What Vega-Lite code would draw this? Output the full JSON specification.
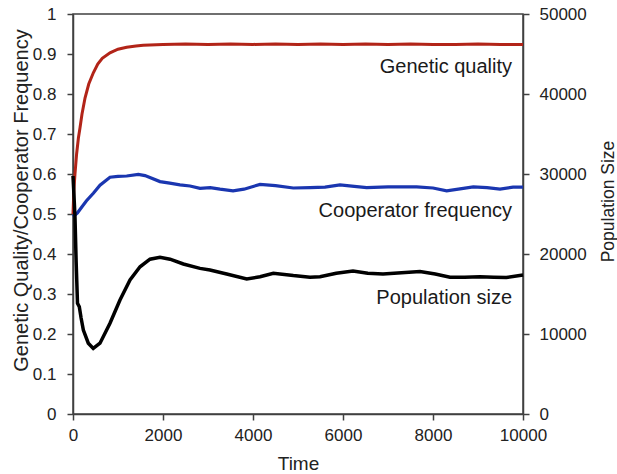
{
  "$schema": "https://vega.github.io/schema/vega-lite/v6.json",
  "width": 450,
  "height": 400,
  "autosize": {"type": "none"},
  "padding": {"left": 73, "top": 14, "right": 94, "bottom": 60},
  "background": "white",
  "config": {
    "font": "Liberation Sans",
    "view": {"stroke": "#404040", "strokeWidth": 1.5},
    "axis": {
      "grid": false,
      "domainColor": "#404040",
      "domainWidth": 1.5,
      "tickColor": "#404040",
      "tickWidth": 1.5,
      "tickSize": 6,
      "labelFontSize": 17,
      "labelColor": "#222222",
      "titleColor": "#222222",
      "titleFontWeight": "normal",
      "labelOverlap": false,
      "labelFlush": false
    }
  },
  "datasets": {
    "gq": [
      {"t": 0, "v": 0.5}, {"t": 20, "v": 0.56}, {"t": 44, "v": 0.6}, {"t": 80, "v": 0.65},
      {"t": 120, "v": 0.69}, {"t": 155, "v": 0.715}, {"t": 200, "v": 0.75}, {"t": 267, "v": 0.79},
      {"t": 350, "v": 0.825}, {"t": 452, "v": 0.853}, {"t": 550, "v": 0.875}, {"t": 650, "v": 0.889},
      {"t": 822, "v": 0.903}, {"t": 1000, "v": 0.912}, {"t": 1193, "v": 0.917}, {"t": 1400, "v": 0.92},
      {"t": 1560, "v": 0.922}, {"t": 2000, "v": 0.924}, {"t": 2500, "v": 0.925}, {"t": 3000, "v": 0.924},
      {"t": 3500, "v": 0.925}, {"t": 4000, "v": 0.924}, {"t": 4500, "v": 0.925}, {"t": 5000, "v": 0.924},
      {"t": 5500, "v": 0.925}, {"t": 6000, "v": 0.924}, {"t": 6500, "v": 0.925}, {"t": 7000, "v": 0.924},
      {"t": 7500, "v": 0.925}, {"t": 8000, "v": 0.924}, {"t": 8500, "v": 0.924}, {"t": 9000, "v": 0.925},
      {"t": 9500, "v": 0.924}, {"t": 10000, "v": 0.924}
    ],
    "cf": [
      {"t": 0, "v": 0.493}, {"t": 100, "v": 0.503}, {"t": 200, "v": 0.518}, {"t": 300, "v": 0.533},
      {"t": 452, "v": 0.552}, {"t": 600, "v": 0.572}, {"t": 822, "v": 0.592}, {"t": 1000, "v": 0.594},
      {"t": 1193, "v": 0.595}, {"t": 1452, "v": 0.599}, {"t": 1600, "v": 0.596}, {"t": 1933, "v": 0.581},
      {"t": 2150, "v": 0.577}, {"t": 2378, "v": 0.573}, {"t": 2600, "v": 0.57}, {"t": 2822, "v": 0.564},
      {"t": 3050, "v": 0.566}, {"t": 3267, "v": 0.562}, {"t": 3556, "v": 0.558}, {"t": 3800, "v": 0.562},
      {"t": 4156, "v": 0.574}, {"t": 4500, "v": 0.571}, {"t": 4896, "v": 0.565}, {"t": 5267, "v": 0.566},
      {"t": 5600, "v": 0.567}, {"t": 5933, "v": 0.573}, {"t": 6250, "v": 0.569}, {"t": 6526, "v": 0.566},
      {"t": 7000, "v": 0.568}, {"t": 7637, "v": 0.568}, {"t": 8000, "v": 0.565}, {"t": 8304, "v": 0.558},
      {"t": 8600, "v": 0.563}, {"t": 8896, "v": 0.568}, {"t": 9200, "v": 0.566}, {"t": 9489, "v": 0.562},
      {"t": 9778, "v": 0.567}, {"t": 10000, "v": 0.567}
    ],
    "pop": [
      {"t": 0, "p": 29750}, {"t": 20, "p": 27500}, {"t": 44, "p": 24650}, {"t": 70, "p": 19000},
      {"t": 100, "p": 13850}, {"t": 140, "p": 13400}, {"t": 180, "p": 12000}, {"t": 230, "p": 10500},
      {"t": 340, "p": 8850}, {"t": 450, "p": 8200}, {"t": 600, "p": 8850}, {"t": 822, "p": 11350},
      {"t": 1044, "p": 14250}, {"t": 1267, "p": 16750}, {"t": 1490, "p": 18400}, {"t": 1711, "p": 19350},
      {"t": 1933, "p": 19600}, {"t": 2156, "p": 19350}, {"t": 2452, "p": 18750}, {"t": 2822, "p": 18200},
      {"t": 3044, "p": 18000}, {"t": 3415, "p": 17500}, {"t": 3860, "p": 16875}, {"t": 4156, "p": 17150},
      {"t": 4452, "p": 17600}, {"t": 4896, "p": 17300}, {"t": 5267, "p": 17100}, {"t": 5489, "p": 17150},
      {"t": 5850, "p": 17600}, {"t": 6222, "p": 17875}, {"t": 6550, "p": 17600}, {"t": 6889, "p": 17500},
      {"t": 7300, "p": 17650}, {"t": 7711, "p": 17800}, {"t": 8050, "p": 17500}, {"t": 8378, "p": 17100},
      {"t": 8700, "p": 17100}, {"t": 9044, "p": 17150}, {"t": 9350, "p": 17100}, {"t": 9630, "p": 17050},
      {"t": 10000, "p": 17375}
    ],
    "labels": [
      {"t": 9756, "v": 0.852, "label": "Genetic quality"},
      {"t": 9756, "v": 0.492, "label": "Cooperator frequency"},
      {"t": 9756, "v": 0.275, "label": "Population size"}
    ]
  },
  "layer": [
    {
      "layer": [
        {
          "data": {"name": "gq"},
          "mark": {"type": "line", "color": "#b22418", "strokeWidth": 3},
          "encoding": {
            "x": {
              "field": "t", "type": "quantitative",
              "scale": {"domain": [0, 10000], "nice": false},
              "axis": {
                "title": "Time", "values": [0, 2000, 4000, 6000, 8000, 10000], "format": "d",
                "labelPadding": 7, "titleFontSize": 19, "titleX": 225, "titleY": 55,
                "titleBaseline": "alphabetic", "titleAlign": "center"
              }
            },
            "y": {
              "field": "v", "type": "quantitative",
              "scale": {"domain": [0, 1], "nice": false},
              "axis": {
                "title": "Genetic Quality/Cooperator Frequency",
                "values": [0, 0.1, 0.2, 0.3, 0.4, 0.5, 0.6, 0.7, 0.8, 0.9, 1],
                "tickCount": 11,
                "format": ".1~f", "labelPadding": 11, "titleFontSize": 20,
                "titleAngle": 270, "titleX": -46, "titleY": 186,
                "titleBaseline": "alphabetic", "titleAlign": "center"
              }
            }
          }
        },
        {
          "data": {"name": "cf"},
          "mark": {"type": "line", "color": "#1a36b0", "strokeWidth": 3.2},
          "encoding": {
            "x": {
              "field": "t", "type": "quantitative",
              "scale": {"domain": [0, 10000], "nice": false},
              "axis": {
                "title": "Time", "values": [0, 2000, 4000, 6000, 8000, 10000], "format": "d",
                "labelPadding": 7, "titleFontSize": 19, "titleX": 225, "titleY": 55,
                "titleBaseline": "alphabetic", "titleAlign": "center"
              }
            },
            "y": {
              "field": "v", "type": "quantitative",
              "scale": {"domain": [0, 1], "nice": false},
              "axis": {
                "title": "Genetic Quality/Cooperator Frequency",
                "values": [0, 0.1, 0.2, 0.3, 0.4, 0.5, 0.6, 0.7, 0.8, 0.9, 1],
                "tickCount": 11,
                "format": ".1~f", "labelPadding": 11, "titleFontSize": 20,
                "titleAngle": 270, "titleX": -46, "titleY": 186,
                "titleBaseline": "alphabetic", "titleAlign": "center"
              }
            }
          }
        },
        {
          "data": {"name": "labels"},
          "mark": {"type": "text", "align": "right", "baseline": "alphabetic", "fontSize": 20, "color": "#1a1a1a"},
          "encoding": {
            "x": {
              "field": "t", "type": "quantitative",
              "scale": {"domain": [0, 10000], "nice": false},
              "axis": {
                "title": "Time", "values": [0, 2000, 4000, 6000, 8000, 10000], "format": "d",
                "labelPadding": 7, "titleFontSize": 19, "titleX": 225, "titleY": 55,
                "titleBaseline": "alphabetic", "titleAlign": "center"
              }
            },
            "y": {
              "field": "v", "type": "quantitative",
              "scale": {"domain": [0, 1], "nice": false},
              "axis": {
                "title": "Genetic Quality/Cooperator Frequency",
                "values": [0, 0.1, 0.2, 0.3, 0.4, 0.5, 0.6, 0.7, 0.8, 0.9, 1],
                "tickCount": 11,
                "format": ".1~f", "labelPadding": 11, "titleFontSize": 20,
                "titleAngle": 270, "titleX": -46, "titleY": 186,
                "titleBaseline": "alphabetic", "titleAlign": "center"
              }
            },
            "text": {"field": "label"}
          }
        }
      ]
    },
    {
      "data": {"name": "pop"},
      "mark": {"type": "line", "color": "#000000", "strokeWidth": 3.5},
      "encoding": {
        "x": {
          "field": "t", "type": "quantitative",
          "scale": {"domain": [0, 10000], "nice": false},
          "axis": {
            "title": "Time", "values": [0, 2000, 4000, 6000, 8000, 10000], "format": "d",
            "labelPadding": 7, "titleFontSize": 19, "titleX": 225, "titleY": 55,
            "titleBaseline": "alphabetic", "titleAlign": "center"
          }
        },
        "y": {
          "field": "p", "type": "quantitative",
          "scale": {"domain": [0, 50000], "nice": false},
          "axis": {
            "orient": "right", "title": "Population Size",
            "values": [0, 10000, 20000, 30000, 40000, 50000], "format": "d",
            "labelPadding": 10, "titleFontSize": 17.5,
            "titleAngle": 270, "titleX": 90, "titleY": 187,
            "titleBaseline": "alphabetic", "titleAlign": "center"
          }
        }
      }
    }
  ],
  "resolve": {"scale": {"y": "independent"}}
}
